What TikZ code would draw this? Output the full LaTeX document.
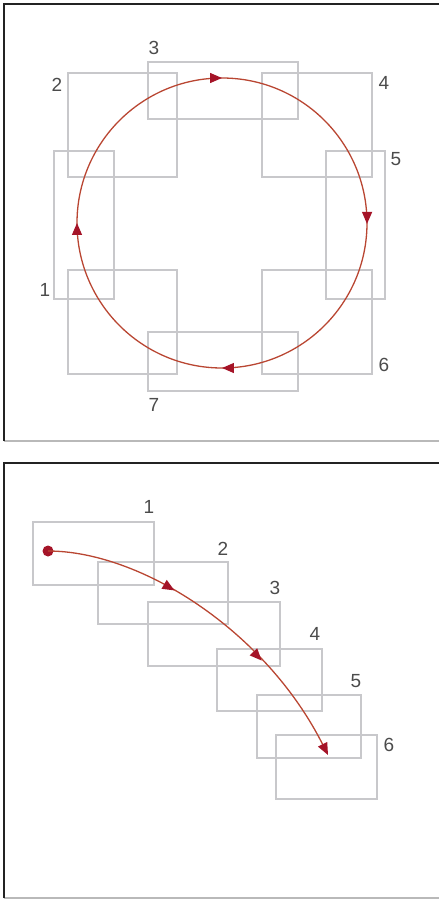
\documentclass[tikz,border=0pt]{standalone}
\usepackage{fontspec}
\setsansfont{Liberation Sans}
\usetikzlibrary{arrows.meta,decorations.markings}

\definecolor{cadregris}{RGB}{200,200,203}
\definecolor{bordfonce}{RGB}{35,35,35}
\definecolor{bordclair}{RGB}{185,185,185}
\definecolor{trajet}{RGB}{185,70,50}
\definecolor{pointe}{RGB}{165,20,40}
\definecolor{chiffre}{RGB}{75,75,75}

\tikzset{
  cadre/.style={draw=cadregris, line width=1.2pt},
  numero/.style={font=\sffamily\fontsize{19}{19}\selectfont, text=chiffre, inner sep=0pt},
  tete/.tip={Triangle[length=12pt,width=10pt,color=pointe]},
}

\begin{document}
\begin{tikzpicture}[x=1pt, y=-1pt]
    \useasboundingbox (0,0) rectangle (439,899);

    % Panneaux
    \draw[bordclair, line width=1.5pt] (4,441) -- (439,441);
    \draw[bordfonce, line width=2.5pt] (4,441) -- (4,4) -- (439,4);
    \draw[bordclair, line width=1.2pt] (4,898) -- (439,898);
    \draw[bordfonce, line width=2.5pt] (4,898) -- (4,463) -- (439,463);

    % Fenetres en cercle
    \draw[cadre] (54,151) rectangle (114,299);
    \draw[cadre] (68,73) rectangle (177,177);
    \draw[cadre] (148,62) rectangle (298,119);
    \draw[cadre] (262,73) rectangle (372,177);
    \draw[cadre] (326,151) rectangle (385,299);
    \draw[cadre] (262,270) rectangle (372,374);
    \draw[cadre] (148,332) rectangle (298,391);
    \draw[cadre] (68,270) rectangle (177,374);

    \node[numero] (c1) at (45,290) {1};
    \node[numero] (c2) at (57,85) {2};
    \node[numero] (c3) at (154,48) {3};
    \node[numero] (c4) at (384,83) {4};
    \node[numero] (c5) at (396,159) {5};
    \node[numero] (c6) at (384,365) {6};
    \node[numero] (c7) at (154,405) {7};

    % Trajet circulaire
    \coordinate (centre) at (222,223);
    \draw[trajet, line width=1.3pt, postaction={decorate}, decoration={markings,
        mark=at position 0.001 with {\arrow{tete}},
        mark=at position 0.25 with {\arrow{tete}},
        mark=at position 0.5 with {\arrow{tete}},
        mark=at position 0.75 with {\arrow{tete}}}]
        (centre) circle[radius=145];

    % Fenetres en cascade
    \draw[cadre] (33,522) rectangle (154,585);
    \draw[cadre] (98,562) rectangle (228,624);
    \draw[cadre] (148,602) rectangle (280,666);
    \draw[cadre] (217,649) rectangle (322,711);
    \draw[cadre] (257,695) rectangle (361,758);
    \draw[cadre] (276,735) rectangle (377,799);

    \node[numero] (d1) at (149,507) {1};
    \node[numero] (d2) at (223,549) {2};
    \node[numero] (d3) at (275,588) {3};
    \node[numero] (d4) at (315,634) {4};
    \node[numero] (d5) at (356,681) {5};
    \node[numero] (d6) at (389,745) {6};

    % Trajet courbe
    \node[circle, fill=pointe, inner sep=0pt, minimum size=11pt] (depart) at (48,551) {};
    \coordinate (arrivee) at (328,755);
    \draw[trajet, line width=1.3pt, -tete, postaction={decorate}, decoration={markings,
        mark=at position 0.37 with {\arrow{tete}},
        mark=at position 0.68 with {\arrow{tete}}}]
        (depart.center) .. controls (140,551) and (265,630) .. (arrivee);
\end{tikzpicture}
\end{document}
